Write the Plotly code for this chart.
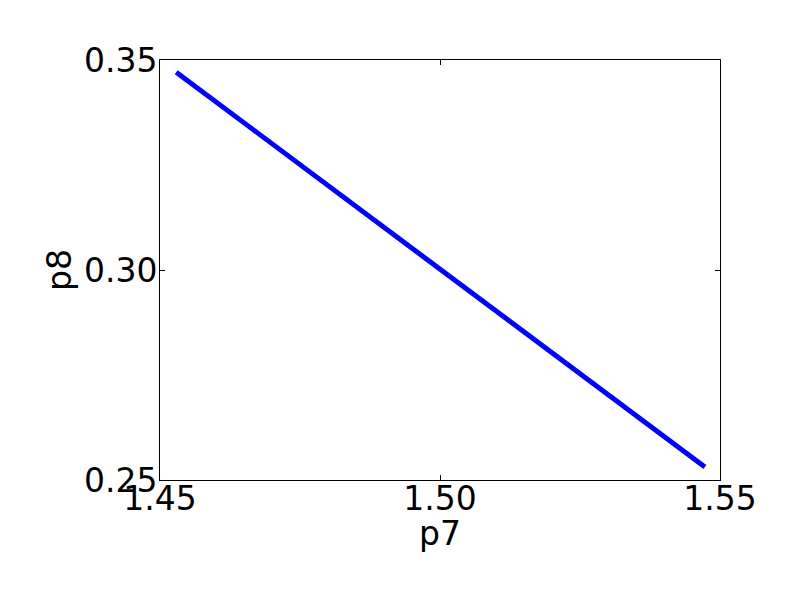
import plotly.graph_objects as go

p7 = [1.4529, 1.5473]
p8 = [0.3471, 0.2531]

x_ticks = [1.45, 1.50, 1.55]
y_ticks = [0.25, 0.30, 0.35]

FONT = dict(family="DejaVu Sans", size=33, color="black")

fig = go.Figure()
fig.add_trace(go.Scatter(x=p7, y=p8, mode="lines",
                         line=dict(color="#0000ff", width=5)))

axis_common = dict(
    showgrid=False, zeroline=False, showline=True, linecolor="black",
    linewidth=1, mirror="ticks", ticks="inside", ticklen=5,
    tickcolor="black", tickfont=FONT, automargin=False,
)
fig.update_layout(
    width=800,
    height=600,
    paper_bgcolor="white",
    plot_bgcolor="white",
    showlegend=False,
    font=FONT,
    # the page body adds 8px around the figure
    margin=dict(t=52, b=128, l=152, r=88),
    xaxis=dict(axis_common, range=[1.45, 1.55], tickvals=x_ticks,
               ticktext=[f"{v:.2f}" for v in x_ticks], ticklabelstandoff=-11),
    yaxis=dict(axis_common, range=[0.25, 0.35], tickvals=y_ticks,
               ticktext=[f"{v:.2f}" for v in y_ticks], ticklabelstandoff=-5),
)
# axis titles placed by hand, matplotlib sits them close to the tick labels
fig.add_annotation(text="p7", xref="paper", yref="paper", x=0.5, y=0,
                   xanchor="center", yanchor="middle", yshift=-53,
                   showarrow=False, font=FONT)
fig.add_annotation(text="p8", xref="paper", yref="paper", x=0, y=0.5,
                   xanchor="center", yanchor="middle", xshift=-101,
                   textangle=-90, showarrow=False, font=FONT)
fig.write_html("out.html")
